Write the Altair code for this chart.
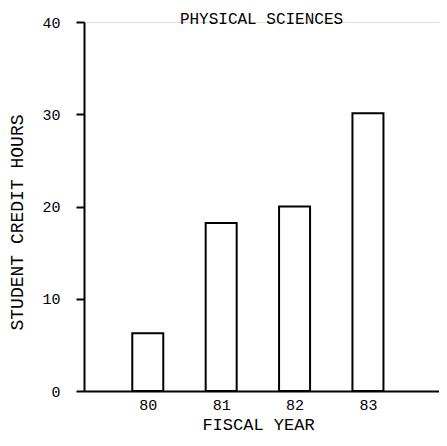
import altair as alt
import pandas as pd

years = [80, 81, 82, 83]
hours = [6.25, 18.2, 20.0, 30.1]
y_ticks = [0, 10, 20, 30, 40]

df = pd.DataFrame({"year": years, "hours": hours})
FONT = "Liberation Mono"

bars = alt.Chart(df).mark_bar(
    size=31, fill="white", stroke="black", strokeWidth=2
).encode(
    x=alt.X("year:Q", scale=alt.Scale(domain=[79.199, 83.90], nice=False, zero=False),
            axis=alt.Axis(values=years, format="d", ticks=False, grid=False,
                          domainColor="black", domainWidth=2,
                          labelFont=FONT, labelFontSize=15, labelColor="black",
                          labelPadding=6,
                          title="FISCAL YEAR", titleFont=FONT, titleFontSize=17,
                          titleFontWeight="normal", titleColor="black", titlePadding=4,
                          titleX=174)),
    y=alt.Y("hours:Q", scale=alt.Scale(domain=[0, 40], nice=False),
            axis=alt.Axis(values=y_ticks, grid=False, tickSize=8, tickWidth=2,
                          tickColor="black", domainColor="black", domainWidth=2,
                          labelFont=FONT, labelFontSize=15, labelColor="black",
                          labelPadding=16,
                          title="STUDENT CREDIT HOURS", titleFont=FONT, titleFontSize=18,
                          titleFontWeight="normal", titleColor="black",
                          titleX=-58, titleY=200, titleAlign="center",
                          titleBaseline="bottom", titleAngle=270)),
)

chart = bars.properties(
    width=355, height=369,
    title=alt.TitleParams("PHYSICAL SCIENCES", font=FONT, fontSize=16, fontWeight="normal",
                          color="black", anchor="middle", offset=0, dy=12),
    autosize=alt.AutoSizeParams(type="none"),
    padding={"left": 76, "top": 14, "right": 0, "bottom": 50},
).configure_view(stroke=None).configure(background="white")

chart.save("out.html", embed_options={"renderer": "svg", "actions": False})
